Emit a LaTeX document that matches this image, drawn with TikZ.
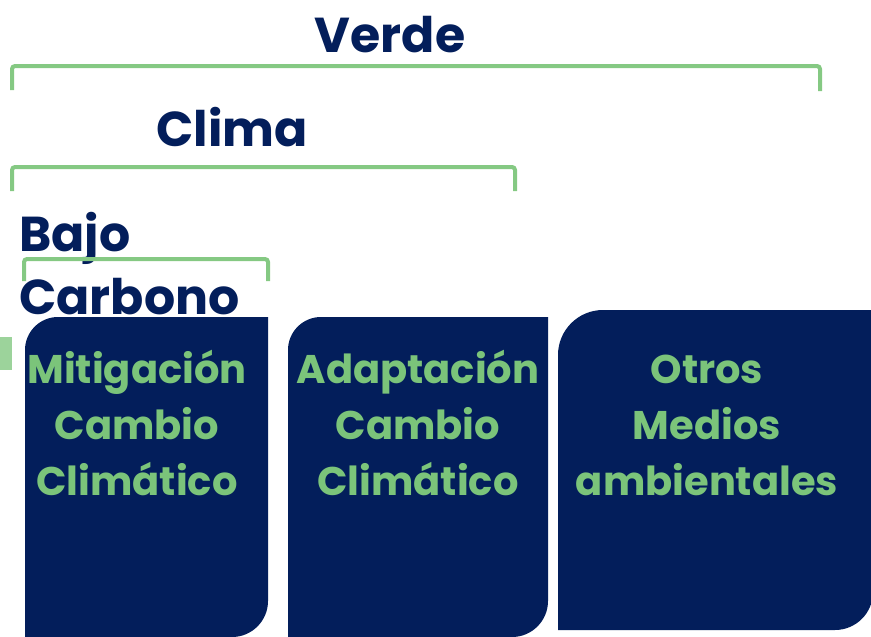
\documentclass[tikz,border=0pt]{standalone}
\usepackage{fontspec}
\setmainfont{Poppins}
\usetikzlibrary{positioning}
\definecolor{navy}{HTML}{031E5B}
\definecolor{leafgreen}{HTML}{7BC47A}
\definecolor{bracketgreen}{HTML}{85C983}
\tikzset{
  panel/.style={fill=navy},
  bracket/.style={draw=bracketgreen, line width=4pt, rounded corners=3pt},
  levellabel/.style={text=navy, font=\bfseries\fontsize{49}{56}\selectfont, inner sep=0},
  paneltext/.style={text=leafgreen, font=\bfseries\fontsize{40}{56}\selectfont, align=center, inner sep=0, anchor=base}
}

\begin{document}
\begin{tikzpicture}[x=1pt, y=-1pt]
      \useasboundingbox (0,0) rectangle (871,637);
      \clip (0,0) rectangle (871,637);

      % labels
      \node[levellabel, anchor=base] (verde) at (390,52) {Verde};
      \node[levellabel, anchor=base] (clima) at (232,146) {Clima};
      \node[levellabel, anchor=base west] (bajo) at (19,251) {Bajo};
      \node[levellabel, anchor=base west] (carbono) at (19,314) {Carbono};

      % brackets
      \draw[bracket] (12,90) -- (12,66) -- (820,66) -- (820,91);
      \draw[bracket] (12,191) -- (12,167) -- (515,167) -- (515,191);
      \draw[bracket] (24,281) -- (24,259) -- (268,259) -- (268,281);

      \fill[leafgreen!75] (0,337) rectangle (12,370);

      % panels
      \fill[panel] (25,637) [rounded corners=33] -- (25,317) [sharp corners] -- (268,317) [rounded corners=36] -- (268,637) [sharp corners] -- cycle;
      \fill[panel] (288,637) [rounded corners=33] -- (288,317) [sharp corners] -- (548,317) [rounded corners=36] -- (548,637) [sharp corners] -- cycle;
      \fill[panel] (558,630) [rounded corners=45] -- (558,310) [sharp corners] -- (873,310) [rounded corners=38] -- (873,630) [sharp corners] -- cycle;

      % last line sits on the base anchor
      \node[paneltext] (mitigacion) at (137,495) {Mitigación\\Cambio\\Climático};
      \node[paneltext] (adaptacion) at (418,495) {Adaptación\\Cambio\\Climático};
      \node[paneltext] (otros) at (707,495) {Otros\\Medios\\ambientales};
    \end{tikzpicture}
\end{document}
